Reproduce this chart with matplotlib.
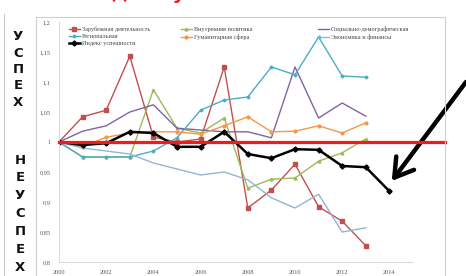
import numpy as np
import matplotlib.pyplot as plt
from matplotlib.patches import Rectangle
from matplotlib.lines import Line2D

# данные (оценка по картинке)
years = list(range(2000, 2014))
years_idx = list(range(2000, 2015))

zarub = [1.0, 1.042, 1.053, 1.143, 1.008, 1.0, 1.005, 1.125, 0.89, 0.92, 0.963, 0.892, 0.868, 0.827]
vnutr = [1.0, 0.975, 0.975, 0.975, 1.087, 1.023, 1.015, 1.04, 0.923, 0.938, 0.94, 0.968, 0.982, 1.005]
soc = [1.0, 1.018, 1.027, 1.05, 1.062, 1.023, 1.02, 1.017, 1.017, 1.007, 1.125, 1.04, 1.065, 1.043]
region = [1.0, 0.975, 0.975, 0.975, 0.985, 1.007, 1.053, 1.07, 1.075, 1.125, 1.112, 1.175, 1.11, 1.108]
gum = [1.0, 0.992, 1.008, 1.015, 1.017, 1.017, 1.013, 1.027, 1.042, 1.017, 1.018, 1.027, 1.015, 1.032]
econ = [1.0, 0.99, 0.985, 0.98, 0.965, 0.955, 0.945, 0.95, 0.937, 0.907, 0.89, 0.913, 0.85, 0.857]
index = [1.0, 0.995, 0.998, 1.017, 1.015, 0.992, 0.992, 1.017, 0.98, 0.973, 0.988, 0.987, 0.96, 0.958, 0.918]

yticks = [0.8, 0.85, 0.9, 0.95, 1.0, 1.05, 1.1, 1.15, 1.2]
ylabels = ['0,8', '0,85', '0,9', '0,95', '1', '1,05', '1,1', '1,15', '1,2']

W, H = 466, 276
fig = plt.figure(figsize=(W / 100, H / 100), dpi=100)
fig.patch.set_facecolor('white')

def fx(px):
    return px / W

def fy(py):
    return 1 - py / H

# рамка слайда
fig.add_artist(Rectangle((fx(36), fy(290)), fx(445) - fx(36), fy(17) - fy(290),
                         transform=fig.transFigure, fill=False, edgecolor='#d0d0d0', lw=0.8))
fig.add_artist(Line2D([fx(4), fx(4)], [fy(14), 0], transform=fig.transFigure, color='#c8c8c8', lw=0.8))

ax = fig.add_axes([fx(59), fy(262), fx(413) - fx(59), fy(22) - fy(262)])
l_zarub, = ax.plot(years, zarub, color='#c0504d', lw=1, marker='s', ms=2.5, label='Зарубежная деятельность')
l_vnutr, = ax.plot(years, vnutr, color='#9bbb59', lw=1, marker='^', ms=2, label='Внутренняя политика')
l_soc, = ax.plot(years, soc, color='#8064a2', lw=1, label='Социально-демографическая')
l_region, = ax.plot(years, region, color='#4bacc6', lw=1, marker='D', ms=1.5, label='Региональная')
l_gum, = ax.plot(years, gum, color='#f79646', lw=1, marker='o', ms=2, label='Гуманитарная сфера')
l_econ, = ax.plot(years, econ, color='#95b3d7', lw=1, label='Экономика и финансы')
l_index, = ax.plot(years_idx, index, color='black', lw=1.8, marker='D', ms=2.6, label='Индекс успешности')

ax.axhline(1.0, xmin=0, xmax=(445 - 59) / (413 - 59), color='#ee1c1c', lw=2.3, clip_on=False, zorder=5)

ax.set_xlim(2000, 2015)
ax.set_ylim(0.8, 1.2)
ax.set_xticks(range(2000, 2015, 2))
ax.set_yticks(yticks)
ax.set_yticklabels(ylabels)
for s in ['top', 'right']:
    ax.spines[s].set_visible(False)
for s in ['left', 'bottom']:
    ax.spines[s].set_color('#d8d8d8')
    ax.spines[s].set_linewidth(0.7)
ax.tick_params(length=0, labelsize=4.5, colors='#555555', pad=6)
for t in ax.get_xticklabels() + ax.get_yticklabels():
    t.set_family('Liberation Serif')

# легенда: три столбца, каждый отдельно
columns = [([l_zarub, l_region, l_index], 66),
           ([l_vnutr, l_gum], 178),
           ([l_soc, l_econ], 315)]
for hs, x0 in columns:
    leg = fig.legend(hs, [h.get_label() for h in hs], loc='upper left',
                     bbox_to_anchor=(fx(x0), fy(24)), frameon=False,
                     prop={'family': 'Liberation Serif', 'size': 4.5}, handlelength=1.8,
                     handletextpad=0.3, labelspacing=0.3, borderaxespad=0)
    for t in leg.get_texts():
        t.set_color('#444444')

# левая панель
for i, ch in enumerate('УСПЕХ'):
    fig.text(fx(18), fy(37 + i * 16.3), ch, ha='center', va='center', fontsize=9.5,
             fontweight='bold', family='DejaVu Sans', color='#111111')
for i, ch in enumerate('НЕУСПЕХ'):
    fig.text(fx(20), fy(160 + i * 17.9), ch, ha='center', va='center', fontsize=9.5,
             fontweight='bold', family='DejaVu Sans', color='#111111')

# заголовок (обрезан сверху, как на слайде)
fig.text(fx(252), fy(3), 'Индекс успешности политики', ha='center', va='bottom',
         fontsize=14, fontweight='bold', color='#ee1c1c')

# стрелка
ax.annotate('', xy=(2014.1, 0.935), xytext=(1.0, fy(82)), textcoords='figure fraction',
            arrowprops=dict(arrowstyle='->,head_length=1.3,head_width=0.8', lw=3.2, color='black',
                            shrinkA=0, shrinkB=0))

fig.savefig('out.png', dpi=100)
